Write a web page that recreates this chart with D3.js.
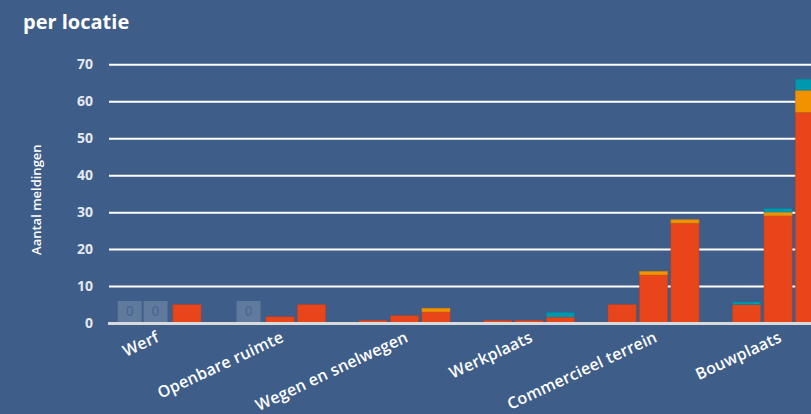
<!DOCTYPE html>
<html>
<head>
<meta charset="utf-8">
<script src="https://cdn.jsdelivr.net/npm/d3@7"></script>
<style>
  html, body { margin: 0; padding: 0; background: #3e5d88; overflow: hidden; }
  svg { display: block; }
</style>
</head>
<body>
<svg id="chart" width="811" height="414"></svg>
<script>
// ---- data ----
const categories = ["Werf", "Openbare ruimte", "Wegen en snelwegen", "Werkplaats", "Commercieel terrein", "Bouwplaats"];
const periods = [0, 1, 2];           // three bars per location
const slots = [0, 1, 2, 3];          // group slots (fourth slot empty)
const yTicks = [0, 10, 20, 30, 40, 50, 60, 70];
// stacked series, values per period, per location
const seriesRed = [
  [0, 0, 0.7, 0.7, 5, 5],
  [0, 1.7, 2, 0.7, 13, 29],
  [5, 5, 3, 1.6, 27, 57]
];
const seriesOrange = [
  [0, 0, 0, 0, 0, 0],
  [0, 0, 0, 0, 1, 1],
  [0, 0, 1, 0, 1, 6]
];
const seriesTeal = [
  [0, 0, 0, 0, 0, 0.7],
  [0, 0, 0, 0, 0, 1],
  [0, 0, 0, 1.3, 0, 3]
];
const seriesList = [
  { name: "a", color: "#e8461a", values: seriesRed },
  { name: "b", color: "#f39200", values: seriesOrange },
  { name: "c", color: "#0098ae", values: seriesTeal }
];

// ---- layout ----
const svg = d3.select("#chart");
const plotLeft = 109, bandW = 124.5;
const x = d3.scaleBand().domain(categories).range([plotLeft, plotLeft + bandW * categories.length]).padding(0);
const xInner = d3.scaleBand().domain(slots).range([0, x.bandwidth()]).paddingInner(0.1).paddingOuter(0.03);
const y = d3.scaleLinear().domain([0, 70]).range([323, 64.35]);

// title
svg.append("text").attr("x", 23).attr("y", 29)
  .attr("font-family", "Open Sans").attr("font-weight", 700).attr("font-size", 20)
  .attr("fill", "#ffffff").text("per locatie");

// y axis title
svg.append("text")
  .attr("transform", `translate(41,${(y(0) + y(70)) / 2 + 6}) rotate(-90)`)
  .attr("text-anchor", "middle")
  .attr("font-family", "Open Sans").attr("font-weight", 600).attr("font-size", 13)
  .attr("fill", "#ffffff").text("Aantal meldingen");

// gridlines + y labels via axis
const yAxis = d3.axisLeft(y).tickValues(yTicks).tickSize(-(811 - plotLeft)).tickPadding(16);
const gy = svg.append("g").attr("transform", `translate(${plotLeft},0)`).call(yAxis);
gy.select(".domain").remove();
gy.selectAll(".tick line").attr("stroke", "#ffffff").attr("stroke-width", 2)
  .attr("display", d => d === 0 ? "none" : null);
gy.selectAll(".tick text")
  .attr("font-family", "Open Sans").attr("font-weight", 700).attr("font-size", 14)
  .attr("fill", "#e4e8ef").attr("dy", "0.3em");

// stacked bars
const barsG = svg.append("g");
categories.forEach((cat, ci) => {
  periods.forEach(pi => {
    let base = 0;
    seriesList.forEach(s => {
      const v = s.values[pi][ci];
      if (v > 0) {
        barsG.append("rect")
          .attr("x", x(cat) + xInner(pi))
          .attr("width", xInner.bandwidth())
          .attr("y", y(base + v))
          .attr("height", y(base) - y(base + v))
          .attr("fill", s.color)
          .attr("stroke", d3.color(s.color).darker(0.6)).attr("stroke-opacity", 0.35).attr("stroke-width", 1);
      }
      base += v;
    });
    if (base === 0) {
      const cx = x(cat) + xInner(pi) + xInner.bandwidth() / 2;
      const bx = Math.max(cx - 12, plotLeft + 8.7);
      const lg = barsG.append("g");
      lg.append("rect").attr("x", bx).attr("y", y(0) - 22).attr("width", 24).attr("height", 21)
        .attr("fill", "rgba(255,255,255,0.18)");
      lg.append("text").attr("x", bx + 12).attr("y", y(0) - 11.5).attr("dy", "0.35em")
        .attr("text-anchor", "middle")
        .attr("font-family", "Open Sans").attr("font-weight", 600).attr("font-size", 14)
        .attr("fill", "#4d6793").text("0");
    }
  });
});

// zero baseline
svg.append("line").attr("x1", plotLeft - 1).attr("x2", 811)
  .attr("y1", y(0) + 0.5).attr("y2", y(0) + 0.5)
  .attr("stroke", "#d9dadb").attr("stroke-width", 3);

// x axis labels
const xAxis = d3.axisBottom(x).tickSize(0).tickPadding(0);
const gx = svg.append("g").attr("transform", `translate(0,${y(0)})`).call(xAxis);
gx.select(".domain").remove();
gx.selectAll(".tick text")
  .attr("font-family", "Open Sans").attr("font-weight", 600).attr("font-size", 16)
  .attr("letter-spacing", 0.2)
  .attr("fill", "#ffffff")
  .attr("text-anchor", "end")
  .attr("transform", "translate(-11,18) rotate(-25)")
  .attr("dy", 0).attr("y", 0);
</script>
</body>
</html>
